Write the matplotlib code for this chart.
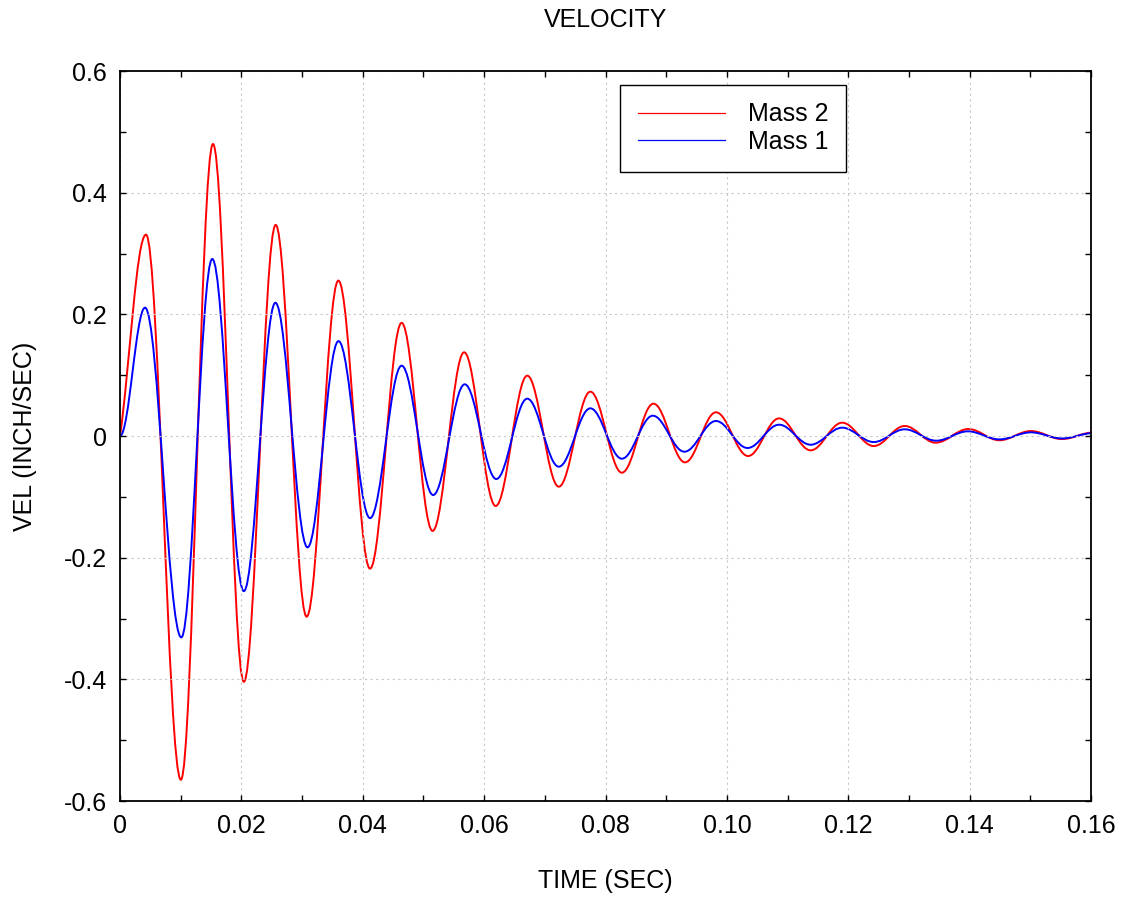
import numpy as np
import matplotlib
matplotlib.use("Agg")

import matplotlib.pyplot as plt
from matplotlib.path import Path
from matplotlib.patches import PathPatch
from matplotlib.lines import Line2D
from matplotlib.ticker import MultipleLocator, FixedLocator, FixedFormatter

plt.rcParams["font.family"] = ["Liberation Sans", "DejaVu Sans"]

# extrema (time, velocity), with the start point
mass2_t = [0, 0.00428, 0.01003, 0.01532, 0.0204, 0.02565, 0.03075, 0.03598,
           0.0412, 0.0464, 0.0515, 0.0567, 0.0619, 0.0671, 0.0723, 0.0775,
           0.0827, 0.0879, 0.0931, 0.0982, 0.1035, 0.1086, 0.1138, 0.1190,
           0.1242, 0.1293, 0.1344, 0.1398, 0.1449, 0.1501, 0.1552, 0.1604]
mass2_v = [0, 0.331, -0.565, 0.480, -0.404, 0.347, -0.297, 0.2555,
           -0.218, 0.186, -0.156, 0.1376, -0.115, 0.0992, -0.0833, 0.0729,
           -0.0603, 0.0532, -0.0433, 0.039, -0.0329, 0.029, -0.0235, 0.0219,
           -0.0165, 0.0165, -0.011, 0.0115, -0.007, 0.0082, -0.005, 0.0058]

mass1_t = [0, 0.00412, 0.0101, 0.0152, 0.0204, 0.0256, 0.0309, 0.0360,
           0.0412, 0.0464, 0.0516, 0.0568, 0.0620, 0.0671, 0.0723, 0.0775,
           0.0827, 0.0878, 0.0930, 0.0982, 0.1034, 0.1086, 0.1138, 0.1190,
           0.1242, 0.1293, 0.1345, 0.1397, 0.1449, 0.1501, 0.1552, 0.1604]
mass1_v = [0, 0.211, -0.331, 0.291, -0.255, 0.219, -0.183, 0.156,
           -0.135, 0.1156, -0.097, 0.085, -0.0707, 0.0614, -0.0504, 0.0455,
           -0.0373, 0.0334, -0.0258, 0.0247, -0.0197, 0.0186, -0.0143, 0.0137,
           -0.0099, 0.011, -0.0077, 0.0077, -0.0055, 0.006, -0.004, 0.0048]

# initial slope at t=0 (VEL per SEC)
mass2_slope0 = 70.0
mass1_slope0 = 0.0

x_ticks = [0, 0.02, 0.04, 0.06, 0.08, 0.10, 0.12, 0.14, 0.16]
x_labels = ["0", "0.02", "0.04", "0.06", "0.08", "0.10", "0.12", "0.14", "0.16"]
y_ticks = [-0.6, -0.4, -0.2, 0, 0.2, 0.4, 0.6]
y_labels = ["-0.6", "-0.4", "-0.2", "0", "0.2", "0.4", "0.6"]


def smooth_path(t, v, slope0, c=0.364):
    # cubic bezier through the extrema, flat tangent at each extremum
    verts = [(t[0], v[0])]
    codes = [Path.MOVETO]
    for i in range(len(t) - 1):
        dt = t[i + 1] - t[i]
        m = slope0 if i == 0 else 0.0
        verts += [(t[i] + c * dt, v[i] + c * dt * m),
                  (t[i + 1] - c * dt, v[i + 1]),
                  (t[i + 1], v[i + 1])]
        codes += [Path.CURVE4] * 3
    return Path(verts, codes)


fs = 18

fig = plt.figure(figsize=(11.26, 8.99), dpi=100)
ax = fig.add_axes([0.1066, 0.109, 0.8623, 0.812])

ax.add_patch(PathPatch(smooth_path(mass2_t, mass2_v, mass2_slope0),
                       facecolor="none", edgecolor="#ff0000", linewidth=1.4))
ax.add_patch(PathPatch(smooth_path(mass1_t, mass1_v, mass1_slope0),
                       facecolor="none", edgecolor="#0000ff", linewidth=1.4))

ax.set_xlim(0, 0.16)
ax.set_ylim(-0.6, 0.6)

ax.xaxis.set_major_locator(FixedLocator(x_ticks))
ax.xaxis.set_major_formatter(FixedFormatter(x_labels))
ax.yaxis.set_major_locator(FixedLocator(y_ticks))
ax.yaxis.set_major_formatter(FixedFormatter(y_labels))
ax.xaxis.set_minor_locator(MultipleLocator(0.01))
ax.yaxis.set_minor_locator(MultipleLocator(0.1))

ax.tick_params(which="both", direction="in", top=True, right=True,
               length=4, width=1, labelsize=fs)
ax.tick_params(axis="x", pad=9)
ax.tick_params(axis="y", pad=9.5)

ax.grid(True, which="major", color="#c8c8c8", linestyle=(0, (2, 3)),
        linewidth=0.8)
for s in ax.spines.values():
    s.set_linewidth(1.3)

ax.set_title("VELOCITY", fontsize=fs, pad=31.5)
ax.set_xlabel("TIME (SEC)", fontsize=fs, labelpad=23)
ax.set_ylabel("VEL (INCH/SEC)", fontsize=fs, labelpad=19.5)

handles = [Line2D([], [], color="#ff0000", linewidth=0.9),
           Line2D([], [], color="#0000ff", linewidth=0.9)]
leg = ax.legend(handles, ["Mass 2", "Mass 1"], loc="upper left",
                bbox_to_anchor=(0.515, 0.981), borderaxespad=0, fontsize=fs,
                handlelength=3.5, handletextpad=0.9, borderpad=0.7,
                labelspacing=0.15, fancybox=False, framealpha=1,
                edgecolor="black")
leg.get_frame().set_linewidth(1.0)

fig.savefig("out.png", dpi=100)
plt.close(fig)
